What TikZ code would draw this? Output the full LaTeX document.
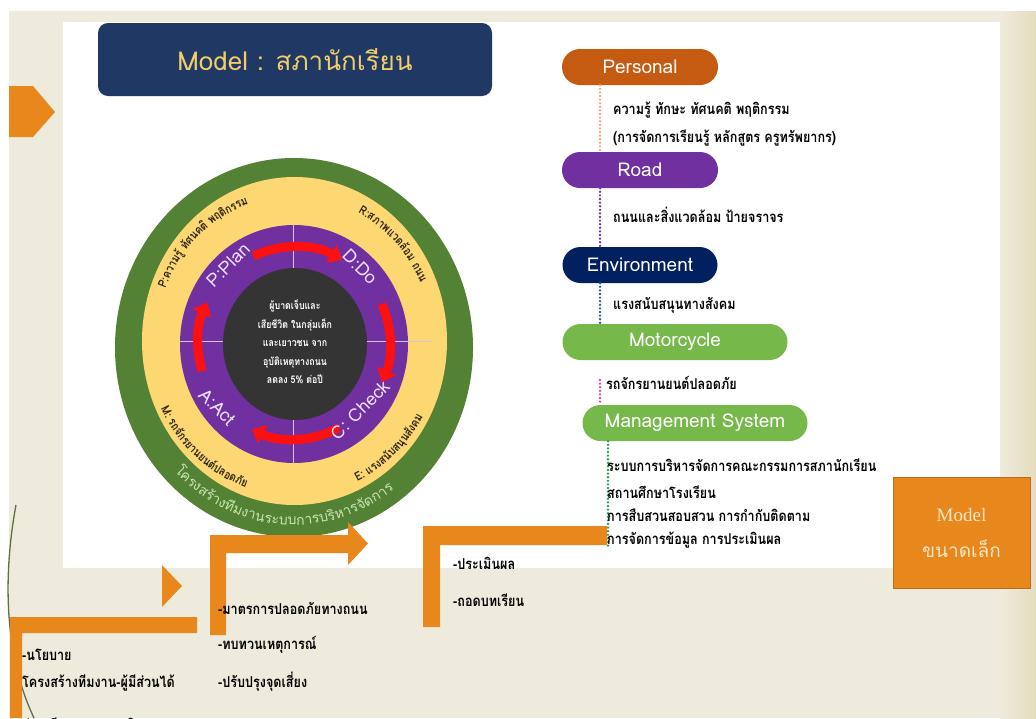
\documentclass[tikz,border=0pt]{standalone}
\usepackage{fontspec}
\setmainfont[Script=Thai]{Loma}
\newfontfamily\thai[Script=Thai]{Loma}
\newfontfamily\thaic[Script=Thai,FakeStretch=0.84]{Loma}
\newfontfamily\serifm{Liberation Serif}
\usetikzlibrary{arrows.meta,calc}

\definecolor{slidebg}{HTML}{EFEBDC}
\definecolor{slideedge}{HTML}{E4DCBE}
\definecolor{navy}{HTML}{203864}
\definecolor{gold}{HTML}{F2CE6B}
\definecolor{ringgreen}{HTML}{548235}
\definecolor{ringyellow}{HTML}{FDD872}
\definecolor{ringpurple}{HTML}{7030A0}
\definecolor{core}{HTML}{343434}
\definecolor{arrowred}{HTML}{FF1010}
\definecolor{orng}{HTML}{E8871B}
\definecolor{pers}{HTML}{C55A11}
\definecolor{envnavy}{HTML}{002060}
\definecolor{lgreen}{HTML}{76B84A}
\definecolor{plum}{HTML}{7030A0}
\definecolor{lavender}{HTML}{EEE0FF}
\definecolor{palegreen}{HTML}{C9E5B0}
\definecolor{ringink}{HTML}{2E2616}
\definecolor{persdot}{HTML}{F4A870}
\definecolor{envdot}{HTML}{2F5597}
\definecolor{mcdot}{HTML}{E040A0}
\definecolor{msdot}{HTML}{22A050}
\definecolor{cream}{HTML}{F8E7C6}
\definecolor{olivecurve}{HTML}{5E7048}

% width of one glyph group, measured outside the picture state
\newdimen\etw
\newcommand\measureglyph[2]{%
  \pgfinterruptpicture
    \setbox0=\hbox{\normalfont\selectfont#1#2}\global\etw=\wd0\relax
  \endpgfinterruptpicture
}

% text set along an elliptical arc, one glyph group at a time
\newcommand\ringtext[8]{%
  % #1,#2 centre; #3,#4 radii; #5 middle angle; #6 direction (1 anticlockwise, -1 clockwise); #7 font; #8 glyph groups
  \gdef\etsum{0}%
  \foreach \gl in {#8}{%
    \measureglyph{#7}{\gl}%
    \pgfmathsetmacro\etnew{\etsum+\the\etw}%
    \xdef\etsum{\etnew}%
  }%
  \pgfmathsetmacro\etspd{100*veclen(#3*sin(#5)/100,#4*cos(#5)/100)}%
  \pgfmathsetmacro\etang{#5-(#6)*deg(\etsum/2/\etspd)}%
  \xdef\etcur{\etang}%
  \foreach \gl in {#8}{%
    \measureglyph{#7}{\gl}%
    \pgfmathsetmacro\etspd{100*veclen(#3*sin(\etcur)/100,#4*cos(\etcur)/100)}%
    \pgfmathsetmacro\etmid{\etcur+(#6)*deg(\the\etw/2/\etspd)}%
    \pgfmathsetmacro\etx{#1+#3*cos(\etmid)}%
    \pgfmathsetmacro\ety{#2-#4*sin(\etmid)}%
    \pgfmathsetmacro\etrot{atan2((#6)*#4*cos(\etmid),-(#6)*#3*sin(\etmid))}%
    \node[rotate=\etrot,anchor=base,inner sep=0pt,outer sep=0pt,font=#7] at (\etx,\ety) {\gl};
    \pgfmathsetmacro\etspd{100*veclen(#3*sin(\etmid)/100,#4*cos(\etmid)/100)}%
    \pgfmathsetmacro\etnext{\etmid+(#6)*deg(\the\etw/2/\etspd)}%
    \xdef\etcur{\etnext}%
  }%
}

\tikzset{
  titlebox/.style={rounded corners=10pt, fill=navy, minimum width=394pt, minimum height=73pt,
    text=gold, font=\thai\fontsize{26}{30}\selectfont},
  pill/.style={rounded corners=18pt, minimum height=36pt, text=white, inner sep=0pt,
    font=\thai\fontsize{19}{21}\selectfont},
  cyclelabel/.style={text=lavender, inner sep=0pt, font=\thai\fontsize{18}{21}\selectfont},
  cyclearrow/.style={draw=arrowred, line width=9pt, -{Triangle[length=12pt,width=20pt]}},
  gridline/.style={draw=white!70!ringpurple, line width=0.6pt},
  coretext/.style={text=white, align=center, inner sep=0pt, font=\thaic\bfseries\fontsize{10.5}{18.6}\selectfont},
  body/.style={anchor=west, inner sep=0pt, text=black, font=\thaic\bfseries\fontsize{15}{17}\selectfont},
  dotline/.style={line width=2.6pt, dash pattern=on 0pt off 3.6pt, line cap=round},
  modelbox/.style={fill=orng, draw=orng!80!black, line width=0.8pt, minimum width=137pt,
    minimum height=111pt, align=center, text=cream, font=\fontsize{19}{36}\selectfont},
}

\begin{document}
\begin{tikzpicture}[x=1pt,y=-1pt]
\useasboundingbox (0,0) rectangle (1036,718);
\clip (0,0) rectangle (1036,718);

% slide background and white panel
\fill[white] (0,0) rectangle (1036,718);
\fill[slidebg] (9,11) rectangle (1036,718);
\shade[left color=slidebg, right color=slideedge] (1000,11) rectangle (1036,718);
\fill[white] (63,22) rectangle (1000,568);

% decorative theme curve
\draw[olivecurve, line width=1.3pt] (16,505) .. controls (3,575) and (4,655) .. (34,718);

% left tab arrow
\fill[orng] (9,86) -- (33,86) -- (55,112) -- (33,137) -- (9,137) -- cycle;

% title
\node[titlebox] (title) at (295,59.5) {Model : สภานักเรียน};

% ring diagram
\coordinate (ctr) at (294,343);
\fill[ringgreen] (294,347.5) ellipse [x radius=179, y radius=189.5];
\fill[ringyellow] (294.5,341) ellipse [x radius=152.5, y radius=164];
\fill[ringpurple] (294,344) ellipse [x radius=114, y radius=119];
\draw[gridline] (180,341) -- (432,341);
\draw[gridline] (293,225) -- (293,463);
\fill[core] (295,344) ellipse [x radius=72, y radius=76];

\node[coretext] (core) at (295,342) {ผู้บาดเจ็บและ\\เสียชีวิต ในกลุ่มเด็ก\\และเยาวชน จาก\\อุบัติเหตุทางถนน\\ลดลง 5\% ต่อปี};

% PDCA cycle arrows (clockwise)
\draw[cyclearrow] ([shift={(-115:96)}]ctr) arc[start angle=-115, end angle=-60, radius=96];
\draw[cyclearrow] ([shift={(-24:96)}]ctr) arc[start angle=-24, end angle=24, radius=96];
\draw[cyclearrow] ([shift={(62:96)}]ctr) arc[start angle=62, end angle=116, radius=96];
\draw[cyclearrow] ([shift={(-197:96)}]ctr) arc[start angle=-197, end angle=-155, radius=96];

\node[cyclelabel, rotate=45] (plan) at (228,265) {P:Plan};
\node[cyclelabel, rotate=-45] (do) at (360,267) {D:Do};
\node[cyclelabel, rotate=-45] (act) at (217,407) {A:Act};
\node[cyclelabel, rotate=45] (check) at (360,410) {C: Check};

% labels around the yellow ring
\ringtext{294}{341}{138}{145}{134}{-1}{\color{ringink}\thaic\bfseries\fontsize{12}{13}\selectfont}%
  {P,:,ค,ว,า,ม,รู้,\ ,ทั,ศ,น,ค,ติ,\ ,พ,ฤ,ติ,ก,ร,ร,ม}
\ringtext{294}{341}{138}{145}{43}{-1}{\color{ringink}\thaic\bfseries\fontsize{12}{13}\selectfont}%
  {R,:,ส,ภ,า,พ,แ,ว,ด,ล้,อ,ม,\ ,ถ,น,น}
\ringtext{294}{341}{148}{155}{228.5}{1}{\color{ringink}\thaic\bfseries\fontsize{12}{13}\selectfont}%
  {M,:,\ ,ร,ถ,จั,ก,ร,ย,า,น,ย,น,ต์,ป,ล,อ,ด,ภั,ย}
\ringtext{294}{341}{148}{155}{313}{1}{\color{ringink}\thaic\bfseries\fontsize{12}{13}\selectfont}%
  {E,:,\ ,แ,ร,ง,ส,นั,บ,ส,นุ,น,สั,ง,ค,ม}
% label around the green ring
\ringtext{294}{347}{167}{178}{266}{1}{\color{palegreen}\thai\fontsize{14}{15}\selectfont}%
  {โ,ค,ร,ง,ส,ร้,า,ง,ที,ม,ง,า,น,ร,ะ,บ,บ,ก,า,ร,บ,ริ,ห,า,ร,จั,ด,ก,า,ร}

% factor column
\coordinate (colx) at (600,0);
\coordinate (colmx) at (608,0);
\node[pill, fill=pers, minimum width=156pt] (personal) at (640,67) {Personal};
\node[pill, fill=plum, minimum width=156pt] (road) at (640,170) {Road};
\node[pill, fill=envnavy, minimum width=155pt] (environment) at (640,265) {Environment};
\node[pill, fill=lgreen, minimum width=225pt] (motorcycle) at (675,342) {Motorcycle};
\node[pill, fill=lgreen, minimum width=225pt] (management) at (695,423) {Management System};
\coordinate (mcdots) at (600,380);
\coordinate (msend) at (608,548);

\draw[dotline, persdot] (personal.south -| colx) -- (road.north -| colx);
\draw[dotline, plum] (road.south -| colx) -- (environment.north -| colx);
\draw[dotline, envdot] (environment.south -| colx) -- (motorcycle.north -| colx);
\draw[dotline, mcdot] (mcdots) -- (management.north -| colx);
\draw[dotline, msdot] (management.south -| colmx) -- (msend);

\node[body] (p1) at (613,110) {ความรู้ ทักษะ ทัศนคติ พฤติกรรม};
\node[body] (p2) at (613,138) {(การจัดการเรียนรู้ หลักสูตร ครูทรัพยากร)};
\node[body] (r1) at (613,215) {ถนนและสิ่งแวดล้อม ป้ายจราจร};
\node[body] (e1) at (613,305) {แรงสนับสนุนทางสังคม};
\node[body] (m1) at (606,383) {รถจักรยานยนต์ปลอดภัย};

% stepped arrows along the bottom
\fill[orng] (10,617) -- (197,617) -- (197,633) -- (22,633) -- (22,718) -- (10,718) -- cycle;
\fill[orng] (162,565) -- (182,586) -- (162,607) -- cycle;
\fill[orng] (210,635) -- (210,535) -- (348,535) -- (348,522) -- (368,543.5) -- (348,565)
  -- (348,553) -- (226,553) -- (226,635) -- cycle;
\fill[orng] (423,627) -- (423,526) -- (607,526) -- (607,545) -- (440,545) -- (440,627) -- cycle;

\node[body] (s1) at (607,465) {ระบบการบริหารจัดการคณะกรรมการสภานักเรียน};
\node[body] (s2) at (607,492) {สถานศึกษาโรงเรียน};
\node[body] (s3) at (607,515) {การสืบสวนสอบสวน การกำกับติดตาม};
\node[body] (s4) at (607,540) {การจัดการข้อมูล การประเมินผล};

\node[body] (b1) at (22,655) {-นโยบาย};
\node[body] (b2) at (22,683) {โครงสร้างทีมงาน-ผู้มีส่วนได้};
\node[body] (b3) at (22,724) {ส่วนเสีย แผนงาน / กิจกรรม};
\node[body] (c1) at (218,608) {-มาตรการปลอดภัยทางถนน};
\node[body] (c2) at (218,645) {-ทบทวนเหตุการณ์};
\node[body] (c3) at (218,682) {-ปรับปรุงจุดเสี่ยง};
\node[body] (d1) at (453,563) {-ประเมินผล};
\node[body] (d2) at (453,600) {-ถอดบทเรียน};

% small model box
\node[modelbox] (small) at (961.5,532.5) {{\serifm Model}\\{\thai ขนาดเล็ก}};
\end{tikzpicture}
\end{document}
